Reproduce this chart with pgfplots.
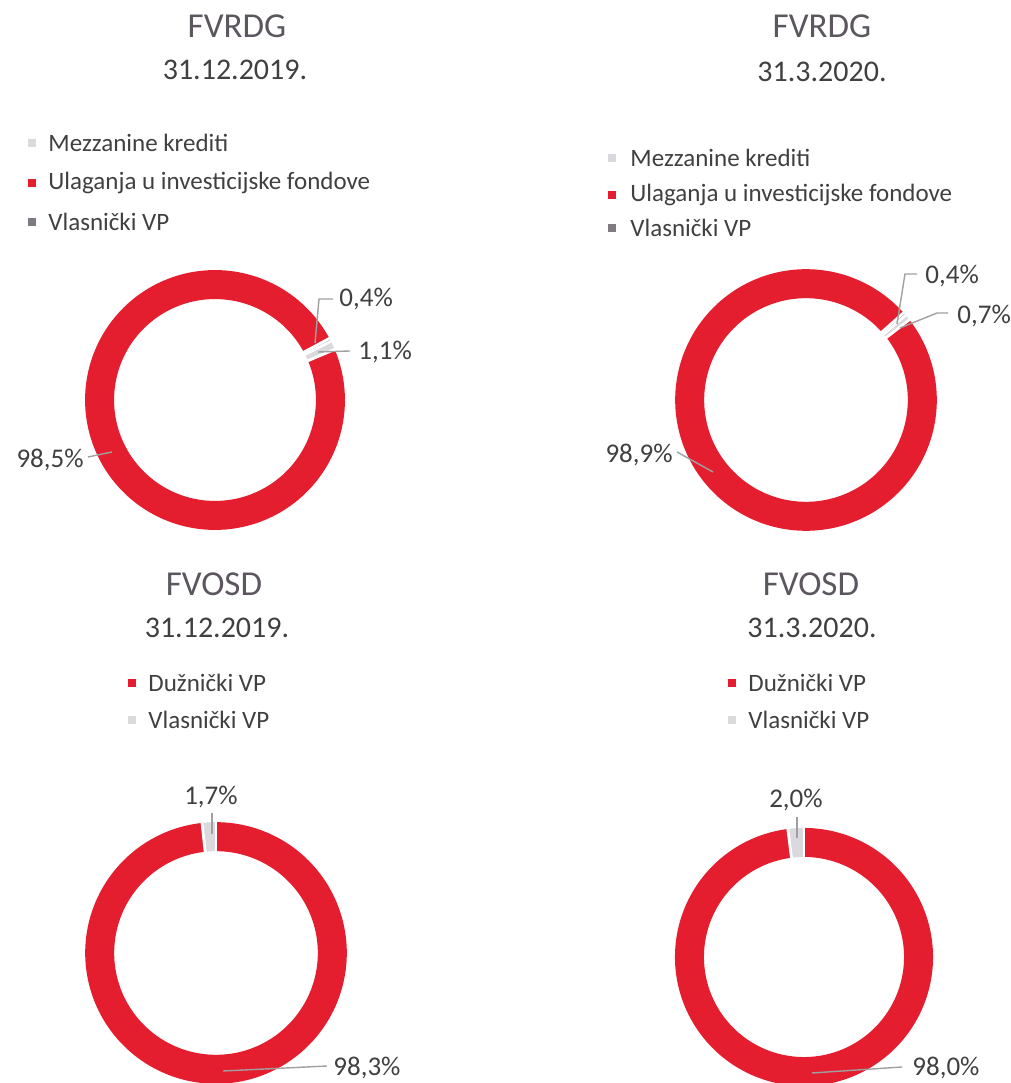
\documentclass[border=0pt]{standalone}
\usepackage{pgfplots}
\pgfplotsset{compat=1.18}
\usepackage{etoolbox}
\usepackage{fontspec}
\setmainfont{Carlito}
\definecolor{cred}{RGB}{228,30,46}
\definecolor{clight}{RGB}{217,217,222}
\definecolor{cdark}{RGB}{128,122,130}
\definecolor{ctext}{RGB}{64,64,64}
\definecolor{ctitle}{RGB}{92,86,94}
\definecolor{cline}{RGB}{160,160,160}

% ring segment drawing: start angle (math degrees), slices go clockwise
\newcommand{\startring}[1]{\xdef\curang{#1}\gdef\sepcmds{}}
\newcommand{\ringseg}[2]{%
  \pgfmathsetmacro\segA{\curang}%
  \pgfmathsetmacro\segB{\curang-3.6*#2}%
  \edef\doplot{\noexpand\addplot[draw=#1, line width=14.5pt, domain=\segB:\segA, samples=181] ({0.888*cos(x)},{0.888*sin(x)});}%
  \doplot
  \xappto\sepcmds{\noexpand\addplot[draw=white, line width=1.4pt, domain=0.74:1.03, samples=2] ({x*cos(\segA)},{x*sin(\segA)});}%
  \xdef\curang{\segB}%
}
\pgfplotsset{ringaxis/.style={hide axis, clip=false, scale only axis, anchor=center, xmin=-1, xmax=1, ymin=-1, ymax=1}}

\tikzset{
  ttl/.style={font=\fontsize{17.5}{20}\selectfont, text=ctitle, inner sep=0pt},
  dte/.style={font=\fontsize{15}{18}\selectfont, text=ctext, inner sep=0pt},
  leg/.style={font=\fontsize{12.5}{15}\selectfont, text=ctext, inner sep=0pt, anchor=west},
  lab/.style={font=\fontsize{13.5}{15}\selectfont, text=ctext, inner sep=0pt},
  ldr/.style={draw=cline, line width=0.7pt}
}

\begin{document}
\begin{tikzpicture}[x=0.5pt, y=0.5pt]
\useasboundingbox (0,0) rectangle (1011,1083);

% ---------- FVRDG 31.12.2019 ----------
\begin{axis}[ringaxis, at={(107.5pt,341.5pt)}, width=130pt, height=130pt]
\startring{28.3}
\ringseg{cdark}{0.4}   % Vlasnicki VP
\ringseg{clight}{1.1}  % Mezzanine krediti
\ringseg{cred}{98.5}   % Ulaganja u investicijske fondove
\sepcmds
\end{axis}

% ---------- FVRDG 31.3.2020 ----------
\begin{axis}[ringaxis, at={(403pt,341.5pt)}, width=131pt, height=131pt]
\startring{41.8}
\ringseg{cdark}{0.4}
\ringseg{clight}{0.7}
\ringseg{cred}{98.9}
\sepcmds
\end{axis}

% ---------- FVOSD 31.12.2019 ----------
\begin{axis}[ringaxis, at={(108pt,65pt)}, width=131pt, height=131pt]
\startring{90}
\ringseg{cred}{98.3}   % Duznicki VP
\ringseg{clight}{1.7}  % Vlasnicki VP
\sepcmds
\end{axis}

% ---------- FVOSD 31.3.2020 ----------
\begin{axis}[ringaxis, at={(402pt,63pt)}, width=129pt, height=129pt]
\startring{90}
\ringseg{cred}{98.0}
\ringseg{clight}{2.0}
\sepcmds
\end{axis}

\begin{scope}[shift={(0,1083)}, y=-0.5pt]
% ---------- titles ----------
\node[ttl] at (237,26) {FVRDG};
\node[dte] at (235,70) {31.12.2019.};
\node[ttl] at (822,26) {FVRDG};
\node[dte] at (822,72) {31.3.2020.};
\node[ttl] at (214,584) {FVOSD};
\node[dte] at (217,628) {31.12.2019.};
\node[ttl] at (811,584) {FVOSD};
\node[dte] at (812,628) {31.3.2020.};

% ---------- legends ----------
\fill[clight] (28,139) rectangle (36,147); \node[leg] at (48,143) {Mezzanine krediti};
\fill[cred]   (28,179) rectangle (36,187); \node[leg] at (48,183) {Ulaganja u investicijske fondove};
\fill[cdark]  (28,218) rectangle (36,226); \node[leg] at (48,222) {Vlasnički VP};

\fill[clight] (608,154) rectangle (616,162); \node[leg] at (630,158) {Mezzanine krediti};
\fill[cred]   (608,191) rectangle (616,199); \node[leg] at (630,195) {Ulaganja u investicijske fondove};
\fill[cdark]  (608,224) rectangle (616,232); \node[leg] at (630,228) {Vlasnički VP};

\fill[cred]   (128,679) rectangle (136,687); \node[leg] at (148,683) {Dužnički VP};
\fill[clight] (128,716) rectangle (136,724); \node[leg] at (148,720) {Vlasnički VP};

\fill[cred]   (728,679) rectangle (736,687); \node[leg] at (748,683) {Dužnički VP};
\fill[clight] (728,716) rectangle (736,724); \node[leg] at (748,720) {Vlasnički VP};

% ---------- data labels ----------
\draw[ldr] (315,343) -- (319,299) -- (333,299);
\node[lab, anchor=west] at (339,299) {0,4\%};
\draw[ldr] (318,352) -- (350,351);
\node[lab, anchor=west] at (358,352) {1,1\%};
\draw[ldr] (88,457) -- (112,452);
\node[lab, anchor=east] at (84,460) {98,5\%};

\draw[ldr] (897,324) -- (905,274) -- (917,274);
\node[lab, anchor=west] at (925,276) {0,4\%};
\draw[ldr] (900,328) -- (937,313) -- (948,313);
\node[lab, anchor=west] at (957,316) {0,7\%};
\draw[ldr] (677,452) -- (713,472);
\node[lab, anchor=east] at (673,455) {98,9\%};

\draw[ldr] (212,813) -- (212,834);
\node[lab] at (211,797) {1,7\%};
\draw[ldr] (223,1071) -- (327,1066);
\node[lab, anchor=west] at (333,1068) {98,3\%};

\draw[ldr] (797,817) -- (797,838);
\node[lab] at (796,800) {2,0\%};
\draw[ldr] (812,1073) -- (902,1067);
\node[lab, anchor=west] at (912,1068) {98,0\%};
\end{scope}
\end{tikzpicture}
\end{document}
